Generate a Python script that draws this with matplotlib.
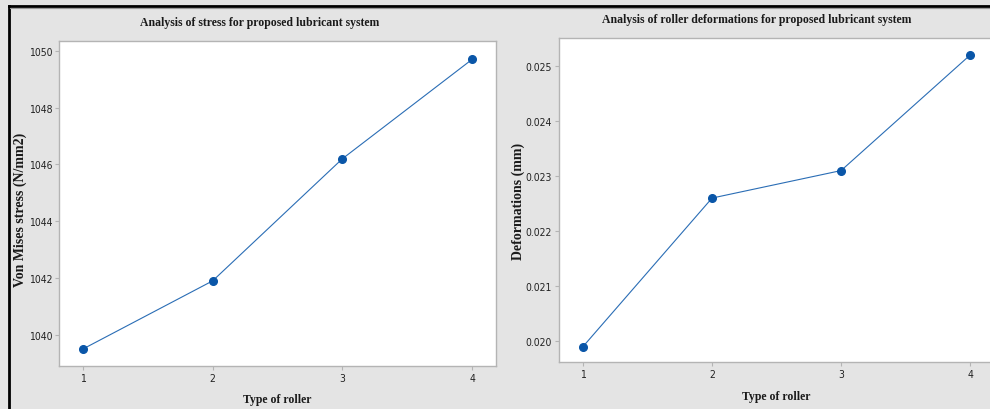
import matplotlib
matplotlib.use("Agg")
import matplotlib.pyplot as plt
from matplotlib.lines import Line2D

roller_types = [1, 2, 3, 4]
stress_values = [1039.5, 1041.9, 1046.2, 1049.7]
deform_values = [0.0199, 0.0226, 0.0231, 0.0252]
stress_ticks = [1040, 1042, 1044, 1046, 1048, 1050]
deform_ticks = [0.020, 0.021, 0.022, 0.023, 0.024, 0.025]
deform_ticklabels = ["0.020", "0.021", "0.022", "0.023", "0.024", "0.025"]

W, H = 990, 410
fig = plt.figure(figsize=(W / 100, H / 100), dpi=100)
fig.patch.set_facecolor("#e4e4e4")

serif = "Liberation Serif"
sans = "DejaVu Sans"
line_c = "#2a6db5"
mark_c = "#0a56a8"
spine_c = "#b4b4b4"

def px_axes(x0, y0, x1, y1):
    return fig.add_axes([x0 / W, 1 - y1 / H, (x1 - x0) / W, (y1 - y0) / H])

ax1 = px_axes(59, 42, 496, 367)
ax2 = px_axes(559, 39, 994, 363)

for ax in (ax1, ax2):
    ax.set_facecolor("white")
    for s in ax.spines.values():
        s.set_color(spine_c)
        s.set_linewidth(1.0)
    ax.tick_params(direction="out", length=3, width=0.8, color=spine_c,
                   labelsize=7.5, labelcolor="#222222", pad=2)
    ax.set_xticks(roller_types)
    for lab in ax.get_xticklabels() + ax.get_yticklabels():
        lab.set_fontfamily(sans)
        lab.set_fontstretch("condensed")

ax1.plot(roller_types, stress_values, color=line_c, lw=0.8,
         marker="o", ms=5.5, mfc=mark_c, mec=mark_c)
ax1.set_xlim(0.815, 4.185)
ax1.set_ylim(1038.9, 1050.35)
ax1.set_yticks(stress_ticks)
ax1.set_yticklabels([str(v) for v in stress_ticks], fontfamily=sans, fontsize=7.5)

ax2.plot(roller_types, deform_values, color=line_c, lw=0.8,
         marker="o", ms=5.5, mfc=mark_c, mec=mark_c)
ax2.set_xlim(0.814, 4.185)
ax2.set_ylim(0.01962, 0.02551)
ax2.set_yticks(deform_ticks)
ax2.set_yticklabels(deform_ticklabels, fontfamily=sans, fontsize=7.5)

tkw = dict(fontfamily=serif, fontweight="bold", fontsize=8.5, color="#1a1a1a")
ykw = dict(fontfamily=serif, fontweight="bold", fontsize=10, color="#1a1a1a")
fig.text(260 / W, 1 - 23 / H, "Analysis of stress for proposed lubricant system",
         ha="center", va="center", **tkw)
fig.text(757 / W, 1 - 20 / H, "Analysis of roller deformations for proposed lubricant system",
         ha="center", va="center", **tkw)
fig.text(277 / W, 1 - 400 / H, "Type of roller", ha="center", va="center", **tkw)
fig.text(776 / W, 1 - 397 / H, "Type of roller", ha="center", va="center", **tkw)
fig.text(20 / W, 1 - 210 / H, "Von Mises stress (N/mm2)", ha="center", va="center",
         rotation=90, **ykw)
fig.text(518 / W, 1 - 201 / H, "Deformations (mm)", ha="center", va="center",
         rotation=90, **ykw)

# black frame lines at top and left
fig.add_artist(Line2D([8.5 / W, 1.0], [1 - 7 / H, 1 - 7 / H], color="black", lw=2.0,
                      transform=fig.transFigure))
fig.add_artist(Line2D([8.5 / W, 8.5 / W], [0, 1 - 7 / H], color="black", lw=2.0,
                      transform=fig.transFigure))
fig.add_artist(Line2D([10 / W, 1.0], [1 - 9 / H, 1 - 9 / H], color="#9a9a9a", lw=0.8,
                      transform=fig.transFigure))

fig.savefig("out.png", dpi=100, facecolor=fig.get_facecolor())
